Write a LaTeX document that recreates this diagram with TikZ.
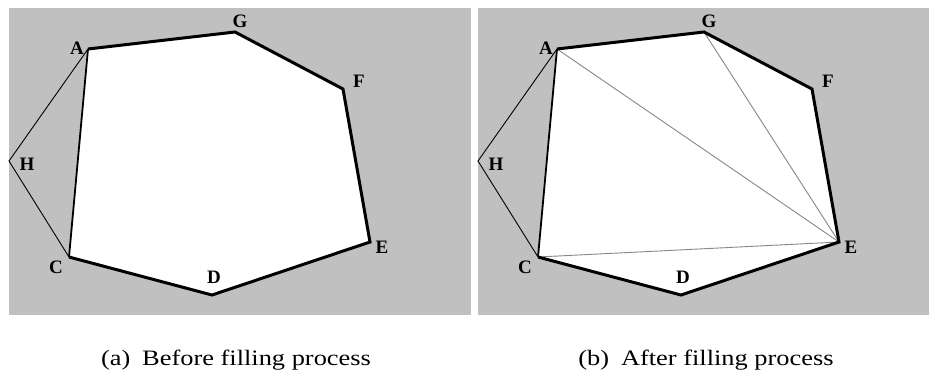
\documentclass[tikz,border=0pt]{standalone}
\usepackage{fontspec}
\setmainfont{Liberation Serif}
\usetikzlibrary{calc}

\definecolor{panelgray}{RGB}{192,192,192}
\definecolor{diaggray}{RGB}{135,135,135}

\tikzset{
  outline/.style={line width=3pt, line join=miter},
  inner edge/.style={line width=1.8pt},
  thin edge/.style={line width=0.9pt},
  diag/.style={line width=0.9pt, draw=diaggray},
  vlabel/.style={font=\fontsize{19}{19}\selectfont\bfseries, inner sep=0pt},
  caption/.style={font=\fontsize{22}{23}\selectfont, inner sep=0pt, anchor=base}
}

\begin{document}
\begin{tikzpicture}[x=1pt,y=-1pt]
\useasboundingbox (0,0) rectangle (931,376);

% Gray panels
\fill[panelgray] (9,8) rectangle (471,315);
\fill[panelgray] (478,8) rectangle (929,315);

% Same polygon in both panels
\foreach \p/\dx in {a/0,b/469} {
\begin{scope}[xshift=\dx]
\coordinate (\p A) at (88,49);
\coordinate (\p G) at (235,32);
\coordinate (\p F) at (343,89);
\coordinate (\p E) at (370,242);
\coordinate (\p D) at (212,295);
\coordinate (\p C) at (69,257);
\coordinate (\p H) at (9,161);

\fill[white] (\p A) -- (\p G) -- (\p F) -- (\p E) -- (\p D) -- (\p C) -- cycle;
\end{scope}
}

% Triangulation (b)
\draw[diag] (bA) -- (bE);
\draw[diag] (bG) -- (bE);
\draw[diag] (bC) -- (bE);

\foreach \p/\dx in {a/0,b/469} {
\draw[thin edge] (\p A) -- (\p H) -- (\p C);
\draw[inner edge] (\p A) -- (\p C);
\draw[outline] (\p A) -- (\p G) -- (\p F) -- (\p E) -- (\p D) -- (\p C);

\begin{scope}[xshift=\dx]
\node[vlabel] (\p LA) at (77,48) {A};
\node[vlabel] (\p LG) at (240,21) {G};
\node[vlabel] (\p LF) at (359,81) {F};
\node[vlabel] (\p LE) at (382,247) {E};
\node[vlabel] (\p LD) at (214,277) {D};
\node[vlabel] (\p LC) at (56,267) {C};
\node[vlabel] (\p LH) at (27,164) {H};
\end{scope}
}

% Captions
\node[caption] (capa) at (236,365) {\scalebox{1.2}[1]{(a)\hspace{0.45em}Before filling process}};
\node[caption] (capb) at (706,365) {\scalebox{1.2}[1]{(b)\hspace{0.45em}After filling process}};

\end{tikzpicture}
\end{document}
